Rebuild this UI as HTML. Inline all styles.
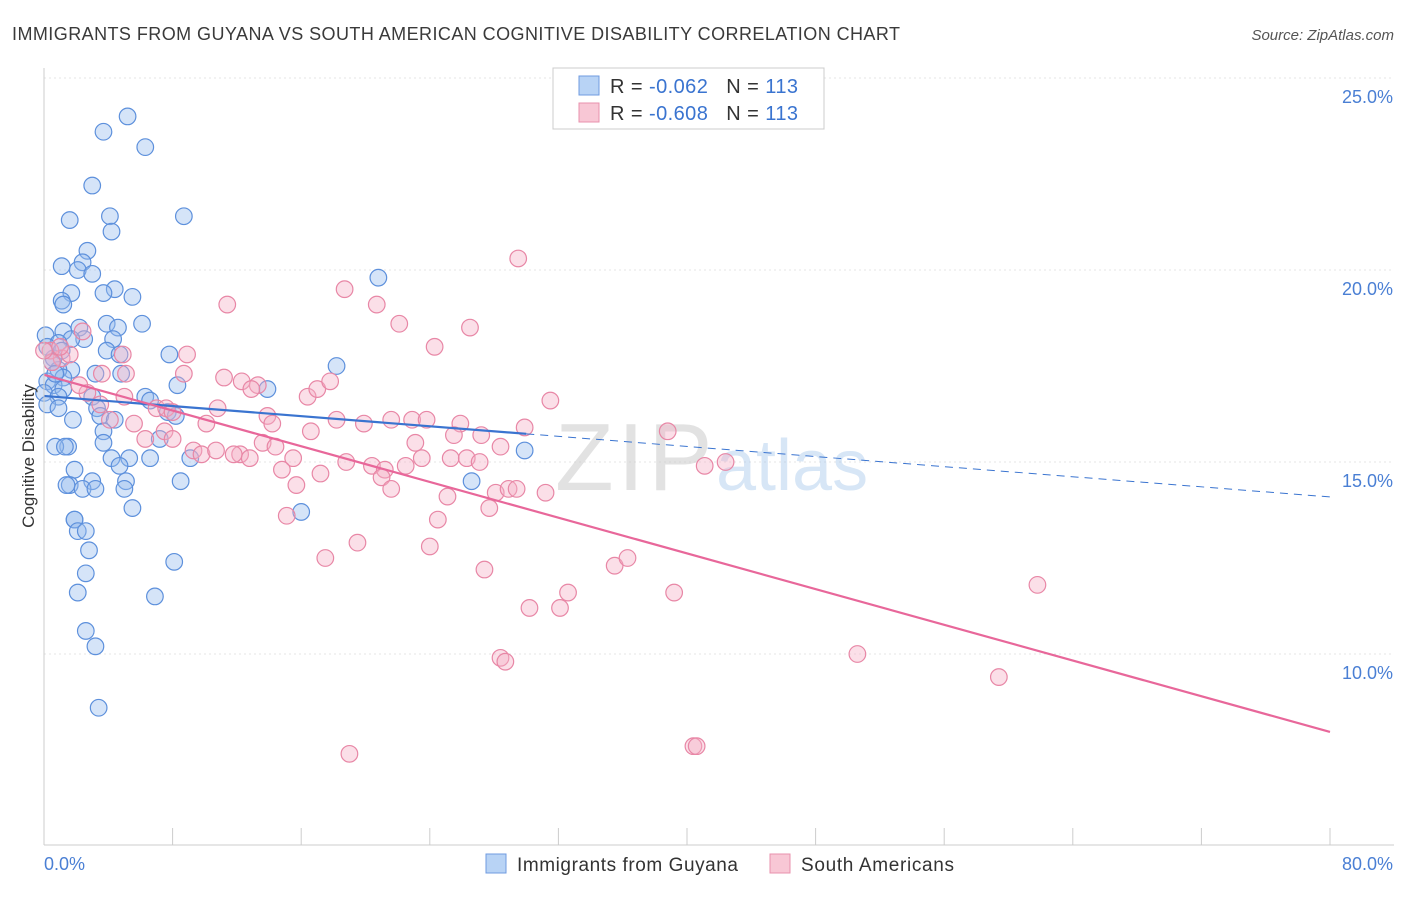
<!DOCTYPE html>
<html><head><meta charset="utf-8">
<style>
body{margin:0;background:#fff;font-family:"Liberation Sans",sans-serif;}
svg text{font-family:"Liberation Sans",sans-serif;}
</style></head>
<body>
<svg id="chart" width="1406" height="892" viewBox="0 0 1406 892" xmlns="http://www.w3.org/2000/svg">
<text x="12" y="40" font-size="18" fill="#3a3a3a" textLength="888" lengthAdjust="spacing">IMMIGRANTS FROM GUYANA VS SOUTH AMERICAN COGNITIVE DISABILITY CORRELATION CHART</text>
<text x="1394" y="40" font-size="15" fill="#555" font-style="italic" text-anchor="end">Source: ZipAtlas.com</text>
<g id="grid"></g>
<g>
<text x="555" y="490" font-size="96" fill="#d0d0d0" opacity="0.6" font-family="Liberation Serif" letter-spacing="4">ZIP</text>
<text x="716" y="490" font-size="72" fill="#a8c8ec" opacity="0.45">atlas</text>
</g>
<g id="pts"></g>
<g id="trends"></g>
<g id="axes"></g>
<text transform="translate(34,456) rotate(-90)" font-size="17" fill="#333" text-anchor="middle">Cognitive Disability</text>
<g>
<rect x="553" y="68" width="271" height="61" fill="#fff" stroke="#ccc"/>
<rect x="579" y="76" width="20" height="19" fill="#b8d3f5" stroke="#6f9be0"/>
<rect x="579" y="103" width="20" height="19" fill="#f8c7d5" stroke="#e892ad"/>
<text x="610" y="93" font-size="20" fill="#333" textLength="188" lengthAdjust="spacing">R = <tspan fill="#3a74d0">-0.062</tspan><tspan dx="18">N = </tspan><tspan fill="#3a74d0">113</tspan></text>
<text x="610" y="120" font-size="20" fill="#333" textLength="188" lengthAdjust="spacing">R = <tspan fill="#3a74d0">-0.608</tspan><tspan dx="18">N = </tspan><tspan fill="#3a74d0">113</tspan></text>
</g>
<g>
<rect x="486" y="854" width="20" height="19" fill="#b8d3f5" stroke="#6f9be0"/>
<text x="517" y="871" font-size="19" fill="#333" textLength="221" lengthAdjust="spacing">Immigrants from Guyana</text>
<rect x="770" y="854" width="20" height="19" fill="#f8c7d5" stroke="#e892ad"/>
<text x="801" y="871" font-size="19" fill="#333" textLength="153" lengthAdjust="spacing">South Americans</text>
</g>
</svg>
<script>
const xTickLabels=["0.0%","80.0%"];
const yTicks=[10,15,20,25];
const yTickLabels=["10.0%","15.0%","20.0%","25.0%"];
const blueX=[5.2,3.7,6.3,3.0,1.6,4.1,8.7,4.2,2.7,1.1,2.4,2.1,3.0,20.8,4.4,3.7,1.7,5.5,1.1,1.2,6.1,3.9,2.2,4.6,1.2,0.1,4.3,2.5,1.7,0.9,3.9,4.7,7.8,0.6,18.2,1.7,0.9,4.8,3.2,1.2,0.2,8.3,0.6,13.9,1.2,0,0.9,3.0,6.3,6.6,0.2,0.9,3.3,7.7,8.2,3.5,1.8,4.4,3.7,7.2,3.7,1.5,0.7,1.3,5.3,9.1,6.6,4.2,4.7,1.9,3.0,5.1,8.5,1.6,1.4,2.4,3.2,5.0,26.6,29.9,16.0,5.5,1.9,1.9,2.1,2.6,2.8,8.1,2.6,2.1,6.9,2.6,3.2,3.4,0.2,0.5,0.7,1.1];
const blueY=[24.0,23.6,23.2,22.2,21.3,21.4,21.4,21.0,20.5,20.1,20.2,20.0,19.9,19.8,19.5,19.4,19.4,19.3,19.2,19.1,18.6,18.6,18.5,18.5,18.4,18.3,18.2,18.2,18.2,18.1,17.9,17.8,17.8,17.7,17.5,17.4,17.4,17.3,17.3,17.2,17.1,17.0,17.0,16.9,16.9,16.8,16.7,16.7,16.7,16.6,16.5,16.4,16.4,16.3,16.2,16.2,16.1,16.1,15.8,15.6,15.5,15.4,15.4,15.4,15.1,15.1,15.1,15.1,14.9,14.8,14.5,14.5,14.5,14.4,14.4,14.3,14.3,14.3,14.5,15.3,13.7,13.8,13.5,13.5,13.2,13.2,12.7,12.4,12.1,11.6,11.5,10.6,10.2,8.6,18.0,17.6,17.3,17.9];
const pinkX=[29.5,18.7,20.7,11.4,22.1,26.5,24.3,8.9,4.9,2.4,1.1,0.4,0.5,1.6,3.6,5.1,8.7,11.2,12.3,13.3,12.9,16.4,17.0,17.8,31.5,2.7,5.0,7.0,7.6,8.0,10.8,4.1,5.6,7.5,10.1,13.9,14.2,16.6,18.2,19.9,21.6,22.9,23.8,25.9,29.9,38.8,6.3,8.0,9.3,9.8,10.7,12.2,13.6,14.4,12.8,11.8,15.5,18.8,20.4,21.2,22.5,23.5,25.3,26.3,27.1,28.4,25.5,27.2,23.1,21.0,21.6,14.8,17.2,15.7,25.1,28.1,28.9,29.4,31.2,27.7,24.5,15.1,24.0,19.5,17.5,27.4,35.5,36.3,32.6,32.1,30.2,39.2,61.8,41.1,42.4,50.6,59.4,28.4,28.7,19.0,40.4,40.6,0,1.0,2.2,3.5];
const pinkY=[20.3,19.5,19.1,19.1,18.6,18.5,18.0,17.8,17.8,18.4,17.7,17.9,17.6,17.8,17.3,17.3,17.3,17.2,17.1,17.0,16.9,16.7,16.9,17.1,16.6,16.8,16.7,16.4,16.4,16.3,16.4,16.1,16.0,15.8,16.0,16.2,16.0,15.8,16.1,16.0,16.1,16.1,16.1,16.0,15.9,15.8,15.6,15.6,15.3,15.2,15.3,15.2,15.5,15.4,15.1,15.2,15.1,15.0,14.9,14.8,14.9,15.1,15.1,15.1,15.0,15.4,15.7,15.7,15.5,14.6,14.3,14.8,14.7,14.4,14.1,14.2,14.3,14.3,14.2,13.8,13.5,13.6,12.8,12.9,12.5,12.2,12.3,12.5,11.6,11.2,11.2,11.6,11.8,14.9,15.0,10.0,9.4,9.9,9.8,7.4,7.6,7.6,17.9,18.0,17.0,16.5];
const blueTrend=[16.72,14.09];
const blueSolidEnd=30;
const pinkTrend=[17.27,7.97];

const NS="http://www.w3.org/2000/svg";
const X=v=>44+v/80*1286;
const Y=v=>78+(25-v)*38.4;
function mk(tag,attrs,parent){const e=document.createElementNS(NS,tag);for(const k in attrs)e.setAttribute(k,attrs[k]);parent.appendChild(e);return e;}
const grid=document.getElementById('grid'),axes=document.getElementById('axes'),pts=document.getElementById('pts'),tr=document.getElementById('trends');
yTicks.forEach((t,i)=>{
 const l=mk('line',{x1:44,x2:1394,y1:Y(t),y2:Y(t),stroke:'#e4e4e4','stroke-dasharray':'2,3'},grid);
 
 
 const tx=mk('text',{x:1393,y:Y(t)+25,'font-size':18,fill:'#4a7fd4','text-anchor':'end'},axes);
 tx.textContent=yTickLabels[i];
 
 
});
mk('line',{x1:44,x2:44,y1:68,y2:845,stroke:'#ccc'},axes);
mk('line',{x1:44,x2:1394,y1:845,y2:845,stroke:'#ccc'},axes);
for(let i=0;i<=10;i++){const tk=mk('line',{x1:X(i*8),x2:X(i*8),y1:828,y2:845,stroke:'#ccc'},axes);
 
 }
const xl0=mk('text',{x:44,y:870,'font-size':18,fill:'#4a7fd4'},axes);xl0.textContent=xTickLabels[0];


const xl1=mk('text',{x:1393,y:870,'font-size':18,fill:'#4a7fd4','text-anchor':'end'},axes);xl1.textContent=xTickLabels[1];


blueX.forEach((v,i)=>{const c=mk('circle',{cx:X(v),cy:Y(blueY[i]),r:8.3,fill:'rgba(150,188,238,0.4)',stroke:'#5d90dc','stroke-width':1.2},pts);
 
 });
pinkX.forEach((v,i)=>{const c=mk('circle',{cx:X(v),cy:Y(pinkY[i]),r:8.3,fill:'rgba(244,176,198,0.4)',stroke:'#e887a6','stroke-width':1.2},pts);
 
 });
const by=x=>blueTrend[0]+(blueTrend[1]-blueTrend[0])*x/80;
const b1=mk('line',{x1:X(0),y1:Y(by(0)),x2:X(blueSolidEnd),y2:Y(by(blueSolidEnd)),stroke:'#3a74d0','stroke-width':2.2},tr);


const b2=mk('line',{x1:X(blueSolidEnd),y1:Y(by(blueSolidEnd)),x2:X(80),y2:Y(by(80)),stroke:'#3a74d0','stroke-width':1,'stroke-dasharray':'8,6'},tr);


const p1=mk('line',{x1:X(0),y1:Y(pinkTrend[0]),x2:X(80),y2:Y(pinkTrend[1]),stroke:'#e8679a','stroke-width':2.2},tr);


</script>
</body></html>
